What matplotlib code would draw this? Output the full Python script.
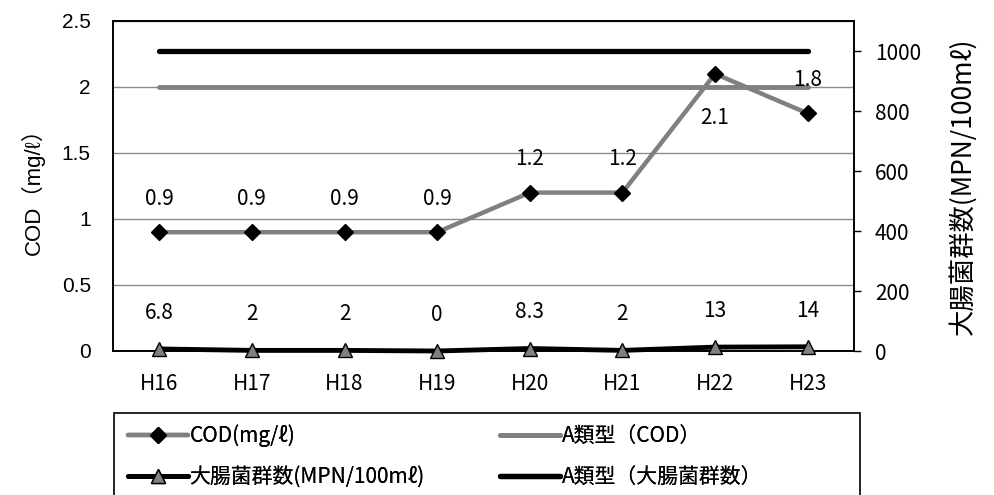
import matplotlib
matplotlib.use("Agg")
import matplotlib.pyplot as plt
from matplotlib.patches import Rectangle

plt.rcParams['font.family'] = ['Noto Sans CJK JP', 'DejaVu Sans']

years = ["H16", "H17", "H18", "H19", "H20", "H21", "H22", "H23"]
cod = [0.9, 0.9, 0.9, 0.9, 1.2, 1.2, 2.1, 1.8]
cod_std = [2, 2, 2, 2, 2, 2, 2, 2]
bact = [6.8, 2, 2, 0, 8.3, 2, 13, 14]
bact_std = [1000, 1000, 1000, 1000, 1000, 1000, 1000, 1000]
cod_labels = ["0.9", "0.9", "0.9", "0.9", "1.2", "1.2", "2.1", "1.8"]
bact_labels = ["6.8", "2", "2", "0", "8.3", "2", "13", "14"]

W, H = 994, 495
fig = plt.figure(figsize=(W / 100, H / 100), dpi=100)
ax = fig.add_axes([113 / W, 1 - 351 / H, (854 - 113) / W, (351 - 21) / H])
ax2 = ax.twinx()

x = list(range(len(years)))
gray = "#808080"
gothic = ['Liberation Sans', 'Noto Sans CJK JP', 'DejaVu Sans']

l_cod, = ax.plot(x, cod, color=gray, lw=3.2, marker="D", ms=8.5,
                 mfc="black", mec="black", zorder=4, solid_capstyle="round")
l_codstd, = ax.plot(x, cod_std, color=gray, lw=3.5, zorder=3, solid_capstyle="round")

l_bact, = ax2.plot(x, bact, color="black", lw=3.5, marker="^", ms=10,
                   mfc=gray, mec="black", mew=1, zorder=4, solid_capstyle="round",
                   clip_on=False)
l_bstd, = ax2.plot(x, bact_std, color="black", lw=3.8, zorder=3, solid_capstyle="round")

ax.set_xlim(-0.5, len(years) - 0.5)
ax.set_ylim(0, 2.5)
ax.set_yticks([0, 0.5, 1, 1.5, 2, 2.5])
ax.set_yticklabels(["0", "0.5", "1", "1.5", "2", "2.5"], family=gothic, fontsize=15)
ax.yaxis.grid(True, color="#8c8c8c", lw=1)
ax.set_axisbelow(True)
ax.tick_params(axis="y", length=0, pad=16)
ax.set_xticks(x)
ax.set_xticklabels(years)
ax.tick_params(axis="x", length=0, labelsize=15, pad=16)

ax2.set_ylim(0, 1100)
ax2.set_yticks([0, 200, 400, 600, 800, 1000])
ax2.tick_params(axis="y", length=5, width=1, direction="out", labelsize=15, pad=10)

for a in (ax, ax2):
    for s in a.spines.values():
        s.set_color("black")
        s.set_linewidth(1.2)

ax.set_ylabel("COD（mg/ℓ）", fontsize=16, labelpad=12, family=gothic)
ax2.set_ylabel("大腸菌群数(MPN/100mℓ)", fontsize=19, labelpad=20)

# data labels
for i, (v, t) in enumerate(zip(cod, cod_labels)):
    if t == "2.1":
        ax.annotate(t, (i, v), xytext=(0, -32), textcoords="offset points",
                    ha="center", va="center", fontsize=15, zorder=6)
    else:
        ax.annotate(t, (i, v), xytext=(0, 24), textcoords="offset points",
                    ha="center", va="center", fontsize=15, zorder=6)
for i, (v, t) in enumerate(zip(bact, bact_labels)):
    ax2.annotate(t, (i, v), xytext=(0, 26), textcoords="offset points",
                 ha="center", va="center", fontsize=15, zorder=6)

# legend frame
fig.patches.append(Rectangle((114 / W, -0.05), (860 - 114) / W, (1 - 413 / H) + 0.05,
                             transform=fig.transFigure, fill=False,
                             edgecolor="black", lw=1.2))

common = dict(loc="center left", fontsize=15, frameon=False,
              handlelength=2.9, handletextpad=0.05, borderpad=0, borderaxespad=0)
entries = [
    (l_cod, "COD(mg/ℓ)", 128, 436),
    (l_bact, "大腸菌群数(MPN/100mℓ)", 128, 477),
    (l_codstd, "A類型（COD）", 500, 436),
    (l_bstd, "A類型（大腸菌群数）", 500, 477),
]
for h, lab, px, py in entries:
    lg = fig.legend([h], [lab], bbox_to_anchor=(px / W, 1 - py / H), **common)
    fig.add_artist(lg)

fig.savefig("out.png", dpi=100)
